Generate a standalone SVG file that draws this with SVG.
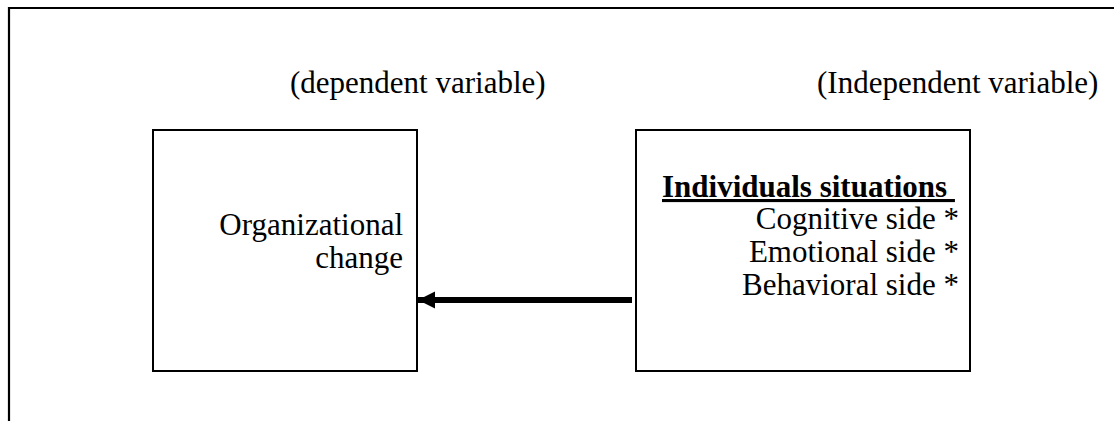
<svg xmlns="http://www.w3.org/2000/svg" width="1114" height="421" viewBox="0 0 1114 421">
<style>
text{font-family:'Liberation Serif','Times New Roman',Tinos,'DejaVu Serif',serif;font-size:31px;fill:#000}
.b{font-weight:bold;text-decoration:underline}
.r{text-anchor:end}
.box{fill:none;stroke:#000;stroke-width:2}
.frame{fill:none;stroke:#000;stroke-width:2.2}
</style>
<defs>
<marker id="ah" markerUnits="userSpaceOnUse" markerWidth="18" markerHeight="18" refX="17" refY="8.5" orient="auto">
<path d="M0,0 L17,8.5 L0,17 Z" fill="#000"/>
</marker>
</defs>
<path class="frame" d="M9,421 V8 H1114"/>
<text font-family="Liberation Serif, serif" x="290" y="93">(dependent variable)</text>
<text font-family="Liberation Serif, serif" x="817" y="93">(Independent variable)</text>
<g id="dependent">
<rect class="box" x="153" y="130" width="264" height="241"/>
<text font-family="Liberation Serif, serif" class="r" x="403" y="235">Organizational</text>
<text font-family="Liberation Serif, serif" class="r" x="403" y="268">change</text>
</g>
<g id="independent">
<rect class="box" x="636" y="130" width="334" height="241"/>
<text font-family="Liberation Serif, serif" class="b" x="662" y="197" xml:space="preserve">Individuals situations </text>
<text font-family="Liberation Serif, serif" class="r" x="959" y="229">Cognitive side *</text>
<text font-family="Liberation Serif, serif" class="r" x="959" y="262">Emotional side *</text>
<text font-family="Liberation Serif, serif" class="r" x="959" y="295">Behavioral side *</text>
</g>
<g id="connectors">
<line x1="632" y1="300" x2="418" y2="300" stroke="#000" stroke-width="6" marker-end="url(#ah)"/>
</g>
</svg>
